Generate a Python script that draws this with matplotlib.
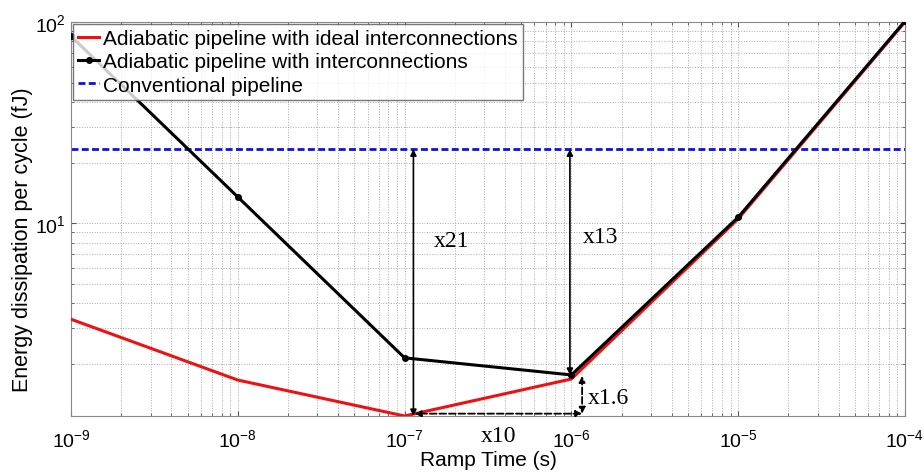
import numpy as np
import matplotlib
matplotlib.use("Agg")
import matplotlib.pyplot as plt
from matplotlib.ticker import NullFormatter

plt.rcParams['font.family'] = ['Liberation Sans', 'DejaVu Sans']
plt.rcParams['mathtext.default'] = 'regular'

# Data
ramp_time = [1e-9, 1e-8, 1e-7, 1e-6, 1e-5, 1e-4]
ideal = [3.33, 1.66, 1.10, 1.68, 10.5, 100.0]
with_ic = [85.0, 13.5, 2.14, 1.76, 10.7, 101.0]
conventional = 23.3

labels = ['Adiabatic pipeline with ideal interconnections',
          'Adiabatic pipeline with interconnections',
          'Conventional pipeline']

fig = plt.figure(figsize=(9.24, 4.77), dpi=100)
ax = fig.add_axes([0.0768, 0.1258, 0.9026, 0.826])

ax.plot(ramp_time, ideal, color='#ee1111', lw=2.2, label=labels[0], zorder=3)
ax.plot(ramp_time, with_ic, color='black', lw=2.2, marker='o', ms=4, label=labels[1], zorder=4)
ax.axhline(conventional, color='#1010dd', lw=2, ls=(0, (2.5, 1.2)), label=labels[2])

ax.set_xscale('log')
ax.set_yscale('log')
ax.set_xlim(1e-9, 1e-4)
ax.set_ylim(1.1, 100)
ax.xaxis.set_minor_formatter(NullFormatter())
ax.yaxis.set_minor_formatter(NullFormatter())

ax.grid(True, which='both', ls=':', color='#aaaaaa', lw=0.7)
ax.tick_params(which='both', direction='in', top=True, right=True, labelsize=14, colors='#555555', labelcolor='black')
ax.tick_params(axis='x', pad=9)
for s in ax.spines.values():
    s.set_color('#888888')

ax.set_xlabel('Ramp Time (s)', fontsize=15, labelpad=0)
ax.set_ylabel('Energy dissipation per cycle (fJ)', fontsize=15.5)
ax.yaxis.set_label_coords(-0.046, 0.45)

# annotation arrows
arr = dict(arrowstyle='<|-|>', color='black', lw=1.2, mutation_scale=9, shrinkA=0, shrinkB=0)
darr = dict(arrowstyle='<|-|>', color='black', lw=1.3, ls='--', mutation_scale=9, shrinkA=0, shrinkB=0)
ax.annotate('', xy=(1.13e-7, 1.1), xytext=(1.13e-7, conventional), arrowprops=arr)
ax.annotate('', xy=(0.98e-6, 1.76), xytext=(0.98e-6, conventional), arrowprops=arr)
ax.annotate('', xy=(1.16e-6, 1.13), xytext=(1.16e-6, 1.74), arrowprops=darr)
ax.annotate('', xy=(1.15e-7, 1.13), xytext=(1.16e-6, 1.13), arrowprops=darr)

tf = dict(family=['Liberation Serif', 'DejaVu Serif'], fontsize=17, va='center', ha='left')
ax.text(1.5e-7, 8.2, 'x21', **tf)
ax.text(1.17e-6, 8.6, 'x13', **tf)
ax.text(1.25e-6, 1.36, 'x1.6', **tf)
ax.text(2.85e-7, 0.875, 'x10', clip_on=False, **tf)

leg = ax.legend(loc='upper left', fontsize=15, frameon=True, fancybox=False,
                borderaxespad=0.1, handlelength=1.0, handletextpad=0.2,
                labelspacing=0.2, borderpad=0.25)
leg.get_frame().set_edgecolor('#555555')
leg.get_frame().set_linewidth(1.0)

fig.savefig('out.png', dpi=100)
